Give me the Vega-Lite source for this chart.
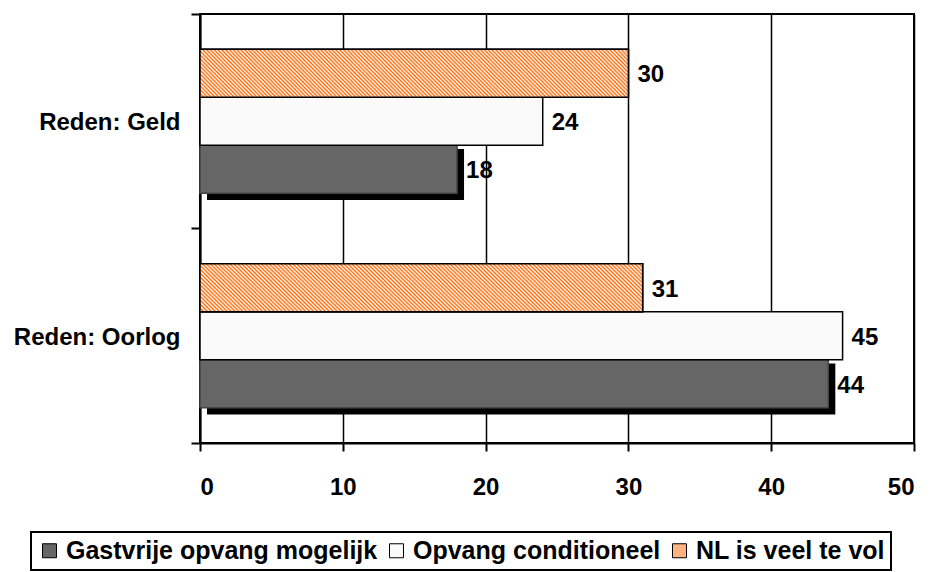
{
  "$schema": "https://vega.github.io/schema/vega-lite/v6.json",
  "width": 714,
  "height": 429,
  "autosize": "none",
  "padding": {"left": 200, "top": 14, "right": 17, "bottom": 129},
  "background": "white",
  "config": {
    "font": "Liberation Sans",
    "view": {"stroke": "black", "strokeWidth": 2},
    "legend": {"strokeColor": "black", "strokeWidth": 2}
  },
  "data": {
    "values": [
      {"reden": "Reden: Geld", "series": "Gastvrije opvang mogelijk", "value": 18},
      {"reden": "Reden: Geld", "series": "Opvang conditioneel", "value": 24},
      {"reden": "Reden: Geld", "series": "NL is veel te vol", "value": 30},
      {"reden": "Reden: Oorlog", "series": "Gastvrije opvang mogelijk", "value": 44},
      {"reden": "Reden: Oorlog", "series": "Opvang conditioneel", "value": 45},
      {"reden": "Reden: Oorlog", "series": "NL is veel te vol", "value": 31}
    ]
  },
  "encoding": {
    "y": {
      "field": "reden", "type": "nominal",
      "sort": ["Reden: Geld", "Reden: Oorlog"],
      "scale": {"domain": ["Reden: Geld", "Reden: Oorlog"], "paddingInner": 0, "paddingOuter": 0},
      "axis": {
        "title": null, "bandPosition": 1, "tickExtra": true, "labelOffset": 2,
        "labelFontSize": 24, "labelFontWeight": "bold", "labelColor": "black", "labelPadding": 11,
        "tickSize": 9, "tickWidth": 2, "tickColor": "black",
        "domainColor": "black", "domainWidth": 2, "grid": false
      }
    },
    "yOffset": {
      "field": "series", "type": "nominal",
      "scale": {"domain": ["NL is veel te vol", "Opvang conditioneel", "Gastvrije opvang mogelijk"], "paddingInner": 0, "paddingOuter": 0.734}
    },
    "x": {
      "field": "value", "type": "quantitative",
      "scale": {"domain": [0, 50], "nice": false},
      "axis": {
        "title": null, "values": [0, 10, 20, 30, 40, 50],
        "labelFontSize": 24, "labelFontWeight": "bold", "labelColor": "black", "labelPadding": 24,
        "tickSize": 8, "tickWidth": 2, "tickColor": "black",
        "domainColor": "black", "domainWidth": 2,
        "grid": true, "gridColor": "black", "gridWidth": 1.5, "gridOpacity": 1
      }
    }
  },
  "resolve": {"scale": {"yOffset": "independent"}},
  "layer": [
    {
      "transform": [{"filter": "datum.series === 'Gastvrije opvang mogelijk'"}],
      "mark": {"type": "bar", "fill": "black", "xOffset": 7, "x2Offset": 4},
      "encoding": {
        "yOffset": {
          "field": "series", "type": "nominal",
          "scale": {"domain": ["NL is veel te vol", "Opvang conditioneel", "Gastvrije opvang mogelijk"], "paddingInner": 0, "paddingOuter": 0.603, "align": 0.5366}
        }
      }
    },
    {
      "layer": [
        {
          "mark": {"type": "bar", "strokeWidth": 1.5},
          "encoding": {
            "color": {
              "field": "series", "type": "nominal",
              "scale": {
                "domain": ["Gastvrije opvang mogelijk", "Opvang conditioneel", "NL is veel te vol"],
                "range": ["#666666", "#fafafa", "#ffb380"]
              },
              "legend": {
                "title": null, "orient": "none", "legendX": -169, "legendY": 518,
                "direction": "horizontal",
                "labelFontSize": 25, "labelFontWeight": "bold", "labelColor": "black", "labelOffset": 4, "labelLimit": 500,
                "symbolType": "square", "symbolSize": 196, "symbolStrokeColor": "black", "symbolStrokeWidth": 1,
                "columnPadding": 6, "padding": 6,
                "strokeColor": "black", "fillColor": "white"
              }
            },
            "stroke": {
              "condition": {"test": "datum.series === 'Gastvrije opvang mogelijk'", "value": "#444444"},
              "value": "black"
            }
          }
        },
        {
          "transform": [{"filter": "datum.series === 'NL is veel te vol'"}],
          "mark": {
            "type": "bar", "stroke": "black", "strokeWidth": 1.5,
            "fill": {
              "gradient": "linear", "x1": 0, "y1": 1, "x2": 1.097, "y2": 0.879,
              "stops": [
                {"offset":0,"color":"#f60"},{"offset":0.004,"color":"#fff"},{"offset":0.008,"color":"#f60"},{"offset":0.012,"color":"#fff"},{"offset":0.016,"color":"#f60"},{"offset":0.02,"color":"#fff"},{"offset":0.024,"color":"#f60"},{"offset":0.028,"color":"#fff"},{"offset":0.032,"color":"#f60"},{"offset":0.036,"color":"#fff"},{"offset":0.04,"color":"#f60"},{"offset":0.044,"color":"#fff"},{"offset":0.048,"color":"#f60"},{"offset":0.052,"color":"#fff"},{"offset":0.056,"color":"#f60"},{"offset":0.06,"color":"#fff"},{"offset":0.064,"color":"#f60"},{"offset":0.068,"color":"#fff"},{"offset":0.072,"color":"#f60"},{"offset":0.076,"color":"#fff"},{"offset":0.08,"color":"#f60"},{"offset":0.084,"color":"#fff"},{"offset":0.088,"color":"#f60"},{"offset":0.092,"color":"#fff"},{"offset":0.096,"color":"#f60"},
                {"offset":0.1,"color":"#fff"},{"offset":0.104,"color":"#f60"},{"offset":0.108,"color":"#fff"},{"offset":0.112,"color":"#f60"},{"offset":0.116,"color":"#fff"},{"offset":0.12,"color":"#f60"},{"offset":0.124,"color":"#fff"},{"offset":0.128,"color":"#f60"},{"offset":0.132,"color":"#fff"},{"offset":0.136,"color":"#f60"},{"offset":0.14,"color":"#fff"},{"offset":0.144,"color":"#f60"},{"offset":0.148,"color":"#fff"},{"offset":0.152,"color":"#f60"},{"offset":0.156,"color":"#fff"},{"offset":0.16,"color":"#f60"},{"offset":0.164,"color":"#fff"},{"offset":0.168,"color":"#f60"},{"offset":0.172,"color":"#fff"},{"offset":0.176,"color":"#f60"},{"offset":0.18,"color":"#fff"},{"offset":0.184,"color":"#f60"},{"offset":0.188,"color":"#fff"},{"offset":0.192,"color":"#f60"},{"offset":0.196,"color":"#fff"},
                {"offset":0.2,"color":"#f60"},{"offset":0.204,"color":"#fff"},{"offset":0.208,"color":"#f60"},{"offset":0.212,"color":"#fff"},{"offset":0.216,"color":"#f60"},{"offset":0.22,"color":"#fff"},{"offset":0.224,"color":"#f60"},{"offset":0.228,"color":"#fff"},{"offset":0.232,"color":"#f60"},{"offset":0.236,"color":"#fff"},{"offset":0.24,"color":"#f60"},{"offset":0.244,"color":"#fff"},{"offset":0.248,"color":"#f60"},{"offset":0.252,"color":"#fff"},{"offset":0.256,"color":"#f60"},{"offset":0.26,"color":"#fff"},{"offset":0.264,"color":"#f60"},{"offset":0.268,"color":"#fff"},{"offset":0.272,"color":"#f60"},{"offset":0.276,"color":"#fff"},{"offset":0.28,"color":"#f60"},{"offset":0.284,"color":"#fff"},{"offset":0.288,"color":"#f60"},{"offset":0.292,"color":"#fff"},{"offset":0.296,"color":"#f60"},
                {"offset":0.3,"color":"#fff"},{"offset":0.304,"color":"#f60"},{"offset":0.308,"color":"#fff"},{"offset":0.312,"color":"#f60"},{"offset":0.316,"color":"#fff"},{"offset":0.32,"color":"#f60"},{"offset":0.324,"color":"#fff"},{"offset":0.328,"color":"#f60"},{"offset":0.332,"color":"#fff"},{"offset":0.336,"color":"#f60"},{"offset":0.34,"color":"#fff"},{"offset":0.344,"color":"#f60"},{"offset":0.348,"color":"#fff"},{"offset":0.352,"color":"#f60"},{"offset":0.356,"color":"#fff"},{"offset":0.36,"color":"#f60"},{"offset":0.364,"color":"#fff"},{"offset":0.368,"color":"#f60"},{"offset":0.372,"color":"#fff"},{"offset":0.376,"color":"#f60"},{"offset":0.38,"color":"#fff"},{"offset":0.384,"color":"#f60"},{"offset":0.388,"color":"#fff"},{"offset":0.392,"color":"#f60"},{"offset":0.396,"color":"#fff"},
                {"offset":0.4,"color":"#f60"},{"offset":0.404,"color":"#fff"},{"offset":0.408,"color":"#f60"},{"offset":0.412,"color":"#fff"},{"offset":0.416,"color":"#f60"},{"offset":0.42,"color":"#fff"},{"offset":0.424,"color":"#f60"},{"offset":0.428,"color":"#fff"},{"offset":0.432,"color":"#f60"},{"offset":0.436,"color":"#fff"},{"offset":0.44,"color":"#f60"},{"offset":0.444,"color":"#fff"},{"offset":0.448,"color":"#f60"},{"offset":0.452,"color":"#fff"},{"offset":0.456,"color":"#f60"},{"offset":0.46,"color":"#fff"},{"offset":0.464,"color":"#f60"},{"offset":0.468,"color":"#fff"},{"offset":0.472,"color":"#f60"},{"offset":0.476,"color":"#fff"},{"offset":0.48,"color":"#f60"},{"offset":0.484,"color":"#fff"},{"offset":0.488,"color":"#f60"},{"offset":0.492,"color":"#fff"},{"offset":0.496,"color":"#f60"},
                {"offset":0.5,"color":"#fff"},{"offset":0.504,"color":"#f60"},{"offset":0.508,"color":"#fff"},{"offset":0.512,"color":"#f60"},{"offset":0.516,"color":"#fff"},{"offset":0.52,"color":"#f60"},{"offset":0.524,"color":"#fff"},{"offset":0.528,"color":"#f60"},{"offset":0.532,"color":"#fff"},{"offset":0.536,"color":"#f60"},{"offset":0.54,"color":"#fff"},{"offset":0.544,"color":"#f60"},{"offset":0.548,"color":"#fff"},{"offset":0.552,"color":"#f60"},{"offset":0.556,"color":"#fff"},{"offset":0.56,"color":"#f60"},{"offset":0.564,"color":"#fff"},{"offset":0.568,"color":"#f60"},{"offset":0.572,"color":"#fff"},{"offset":0.576,"color":"#f60"},{"offset":0.58,"color":"#fff"},{"offset":0.584,"color":"#f60"},{"offset":0.588,"color":"#fff"},{"offset":0.592,"color":"#f60"},{"offset":0.596,"color":"#fff"},
                {"offset":0.6,"color":"#f60"},{"offset":0.604,"color":"#fff"},{"offset":0.608,"color":"#f60"},{"offset":0.612,"color":"#fff"},{"offset":0.616,"color":"#f60"},{"offset":0.62,"color":"#fff"},{"offset":0.624,"color":"#f60"},{"offset":0.628,"color":"#fff"},{"offset":0.632,"color":"#f60"},{"offset":0.636,"color":"#fff"},{"offset":0.64,"color":"#f60"},{"offset":0.644,"color":"#fff"},{"offset":0.648,"color":"#f60"},{"offset":0.652,"color":"#fff"},{"offset":0.656,"color":"#f60"},{"offset":0.66,"color":"#fff"},{"offset":0.664,"color":"#f60"},{"offset":0.668,"color":"#fff"},{"offset":0.672,"color":"#f60"},{"offset":0.676,"color":"#fff"},{"offset":0.68,"color":"#f60"},{"offset":0.684,"color":"#fff"},{"offset":0.688,"color":"#f60"},{"offset":0.692,"color":"#fff"},{"offset":0.696,"color":"#f60"},
                {"offset":0.7,"color":"#fff"},{"offset":0.704,"color":"#f60"},{"offset":0.708,"color":"#fff"},{"offset":0.712,"color":"#f60"},{"offset":0.716,"color":"#fff"},{"offset":0.72,"color":"#f60"},{"offset":0.724,"color":"#fff"},{"offset":0.728,"color":"#f60"},{"offset":0.732,"color":"#fff"},{"offset":0.736,"color":"#f60"},{"offset":0.74,"color":"#fff"},{"offset":0.744,"color":"#f60"},{"offset":0.748,"color":"#fff"},{"offset":0.752,"color":"#f60"},{"offset":0.756,"color":"#fff"},{"offset":0.76,"color":"#f60"},{"offset":0.764,"color":"#fff"},{"offset":0.768,"color":"#f60"},{"offset":0.772,"color":"#fff"},{"offset":0.776,"color":"#f60"},{"offset":0.78,"color":"#fff"},{"offset":0.784,"color":"#f60"},{"offset":0.788,"color":"#fff"},{"offset":0.792,"color":"#f60"},{"offset":0.796,"color":"#fff"},
                {"offset":0.8,"color":"#f60"},{"offset":0.804,"color":"#fff"},{"offset":0.808,"color":"#f60"},{"offset":0.812,"color":"#fff"},{"offset":0.816,"color":"#f60"},{"offset":0.82,"color":"#fff"},{"offset":0.824,"color":"#f60"},{"offset":0.828,"color":"#fff"},{"offset":0.832,"color":"#f60"},{"offset":0.836,"color":"#fff"},{"offset":0.84,"color":"#f60"},{"offset":0.844,"color":"#fff"},{"offset":0.848,"color":"#f60"},{"offset":0.852,"color":"#fff"},{"offset":0.856,"color":"#f60"},{"offset":0.86,"color":"#fff"},{"offset":0.864,"color":"#f60"},{"offset":0.868,"color":"#fff"},{"offset":0.872,"color":"#f60"},{"offset":0.876,"color":"#fff"},{"offset":0.88,"color":"#f60"},{"offset":0.884,"color":"#fff"},{"offset":0.888,"color":"#f60"},{"offset":0.892,"color":"#fff"},{"offset":0.896,"color":"#f60"},
                {"offset":0.9,"color":"#fff"},{"offset":0.904,"color":"#f60"},{"offset":0.908,"color":"#fff"},{"offset":0.912,"color":"#f60"},{"offset":0.916,"color":"#fff"},{"offset":0.92,"color":"#f60"},{"offset":0.924,"color":"#fff"},{"offset":0.928,"color":"#f60"},{"offset":0.932,"color":"#fff"},{"offset":0.936,"color":"#f60"},{"offset":0.94,"color":"#fff"},{"offset":0.944,"color":"#f60"},{"offset":0.948,"color":"#fff"},{"offset":0.952,"color":"#f60"},{"offset":0.956,"color":"#fff"},{"offset":0.96,"color":"#f60"},{"offset":0.964,"color":"#fff"},{"offset":0.968,"color":"#f60"},{"offset":0.972,"color":"#fff"},{"offset":0.976,"color":"#f60"},{"offset":0.98,"color":"#fff"},{"offset":0.984,"color":"#f60"},{"offset":0.988,"color":"#fff"},{"offset":0.992,"color":"#f60"},{"offset":0.996,"color":"#fff"},
                {"offset":1,"color":"#f60"}
              ]
            }
          }
        },
        {
          "mark": {"type": "text", "align": "left", "baseline": "middle", "dx": 9, "dy": 2, "fontSize": 24, "fontWeight": "bold", "color": "black"},
          "encoding": {"text": {"field": "value", "type": "quantitative"}}
        }
      ]
    }
  ]
}
